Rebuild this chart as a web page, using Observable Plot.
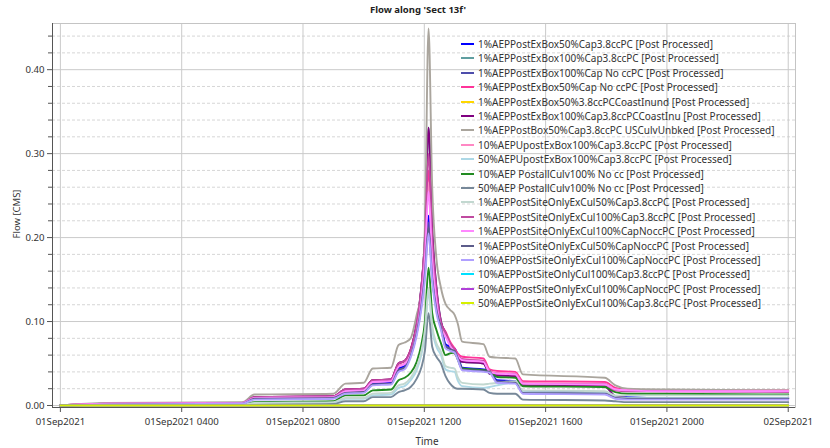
<!DOCTYPE html>
<html>
<head>
<meta charset="utf-8">
<script src="https://cdn.jsdelivr.net/npm/d3@7"></script>
<script src="https://cdn.jsdelivr.net/npm/@observablehq/plot@0.6"></script>
<style>
  html, body { margin: 0; padding: 0; background: #fff; }
  #wrap { position: relative; width: 830px; height: 448px; font-family: "Noto Sans", sans-serif; color: #333; }
  #title { position: absolute; top: 3px; left: 0; width: 836px; text-align: center; font-weight: bold; font-size: 9.5px; color: #222; }
  #ylab { position: absolute; left: 16px; top: 214px; transform: translate(-50%, -50%) rotate(-90deg); font-size: 9.5px; white-space: nowrap; }
  #xlab { position: absolute; left: 427px; top: 434px; transform: translateX(-50%); font-size: 10px; }
  #legend { position: absolute; left: 461px; top: 37px; font-size: 10px; color: #333; }
  .row { position: absolute; left: 0; height: 14px; line-height: 14px; white-space: nowrap; display: flex; align-items: center; }
  .sw { display: inline-block; width: 13px; height: 2px; margin-right: 4px; }
</style>
</head>
<body>
<div id="wrap">
  <div id="chart"></div>
  <div id="title">Flow along 'Sect 13f'</div>
  <div id="ylab">Flow [CMS]</div>
  <div id="xlab">Time</div>
  <div id="legend"></div>
</div>
<script>
// hours after 01Sep2021 00:00
const hours = [0, 1.5, 6.0, 6.4, 9.0, 9.4, 10.0, 10.3, 10.9, 11.15, 11.35, 11.55, 11.75, 11.9, 12.02, 12.14, 12.26, 12.4, 12.55, 12.7, 12.85, 13.0, 13.1, 13.25, 13.95, 14.15, 14.4, 15.0, 15.25, 17.95, 18.3, 18.7, 20.0, 24.0];

const grayVals   = [0, 0.003, 0.004, 0.013, 0.014, 0.026, 0.027, 0.044, 0.045, 0.072, 0.075, 0.080, 0.108, 0.135, 0.21, 0.449, 0.26, 0.175, 0.14, 0.121, 0.114, 0.108, 0.098, 0.076, 0.073, 0.058, 0.057, 0.056, 0.037, 0.033, 0.024, 0.020, 0.019, 0.018];
const pinkVals   = [0, 0.002, 0.003, 0.010, 0.011, 0.019, 0.020, 0.030, 0.031, 0.050, 0.053, 0.067, 0.097, 0.138, 0.195, 0.28, 0.19, 0.135, 0.098, 0.088, 0.076, 0.068, 0.062, 0.058, 0.056, 0.043, 0.041, 0.040, 0.029, 0.028, 0.021, 0.019, 0.018, 0.018];
const pink2Vals  = [0, 0.002, 0.003, 0.009, 0.010, 0.017, 0.018, 0.028, 0.029, 0.047, 0.050, 0.062, 0.090, 0.128, 0.18, 0.265, 0.18, 0.128, 0.094, 0.084, 0.073, 0.065, 0.060, 0.055, 0.053, 0.041, 0.039, 0.038, 0.027, 0.026, 0.019, 0.018, 0.017, 0.017];
const purpleVals = [0, 0.002, 0.003, 0.010, 0.011, 0.019, 0.020, 0.030, 0.031, 0.050, 0.053, 0.066, 0.098, 0.14, 0.2, 0.331, 0.21, 0.14, 0.10, 0.086, 0.072, 0.063, 0.057, 0.052, 0.050, 0.038, 0.036, 0.035, 0.024, 0.023, 0.011, 0.009, 0.008, 0.008];
const mvrVals    = [0, 0.002, 0.003, 0.010, 0.011, 0.019, 0.020, 0.030, 0.031, 0.050, 0.053, 0.066, 0.097, 0.138, 0.195, 0.30, 0.20, 0.137, 0.099, 0.087, 0.074, 0.066, 0.060, 0.055, 0.053, 0.040, 0.038, 0.037, 0.026, 0.025, 0.018, 0.017, 0.017, 0.016];
const violetVals = [0, 0.002, 0.003, 0.009, 0.010, 0.017, 0.018, 0.028, 0.029, 0.046, 0.049, 0.060, 0.088, 0.125, 0.175, 0.255, 0.175, 0.125, 0.092, 0.082, 0.071, 0.064, 0.059, 0.054, 0.052, 0.040, 0.038, 0.037, 0.026, 0.025, 0.019, 0.018, 0.017, 0.017];
const blueVals   = [0, 0.001, 0.002, 0.008, 0.009, 0.016, 0.017, 0.026, 0.027, 0.044, 0.047, 0.062, 0.090, 0.125, 0.165, 0.226, 0.16, 0.12, 0.097, 0.073, 0.070, 0.068, 0.060, 0.045, 0.043, 0.042, 0.030, 0.029, 0.017, 0.016, 0.011, 0.010, 0.009, 0.009];
const sblueVals  = [0, 0.001, 0.002, 0.008, 0.009, 0.015, 0.016, 0.025, 0.026, 0.042, 0.045, 0.060, 0.087, 0.12, 0.16, 0.218, 0.155, 0.116, 0.094, 0.071, 0.068, 0.066, 0.058, 0.044, 0.042, 0.041, 0.029, 0.028, 0.016, 0.015, 0.010, 0.009, 0.009, 0.009];
const dslateVals = [0, 0.001, 0.002, 0.008, 0.009, 0.015, 0.016, 0.025, 0.026, 0.042, 0.045, 0.059, 0.086, 0.118, 0.157, 0.212, 0.152, 0.114, 0.093, 0.070, 0.067, 0.065, 0.057, 0.043, 0.041, 0.040, 0.028, 0.027, 0.015, 0.014, 0.009, 0.008, 0.008, 0.008];
const lavVals    = [0, 0.001, 0.002, 0.007, 0.008, 0.014, 0.015, 0.024, 0.025, 0.040, 0.043, 0.057, 0.083, 0.114, 0.15, 0.205, 0.148, 0.11, 0.09, 0.068, 0.065, 0.063, 0.055, 0.042, 0.040, 0.039, 0.027, 0.026, 0.014, 0.013, 0.008, 0.007, 0.007, 0.007];
const greenVals  = [0, 0.001, 0.001, 0.004, 0.005, 0.012, 0.012, 0.018, 0.019, 0.030, 0.033, 0.039, 0.052, 0.072, 0.10, 0.164, 0.11, 0.09, 0.074, 0.060, 0.062, 0.063, 0.055, 0.044, 0.042, 0.041, 0.034, 0.033, 0.023, 0.022, 0.016, 0.014, 0.014, 0.013];
const lblueVals  = [0, 0.001, 0.001, 0.002, 0.003, 0.008, 0.008, 0.012, 0.013, 0.021, 0.023, 0.030, 0.042, 0.060, 0.085, 0.135, 0.09, 0.07, 0.06, 0.043, 0.041, 0.040, 0.030, 0.023, 0.021, 0.022, 0.024, 0.027, 0.016, 0.015, 0.010, 0.009, 0.009, 0.009];
const sageVals   = [0, 0.001, 0.001, 0.003, 0.004, 0.009, 0.009, 0.014, 0.015, 0.024, 0.026, 0.033, 0.046, 0.064, 0.09, 0.14, 0.095, 0.074, 0.064, 0.047, 0.045, 0.044, 0.034, 0.027, 0.025, 0.026, 0.027, 0.029, 0.018, 0.017, 0.012, 0.012, 0.012, 0.012];
const slateVals  = [0, 0.001, 0.001, 0.002, 0.002, 0.005, 0.005, 0.010, 0.010, 0.016, 0.018, 0.022, 0.032, 0.045, 0.065, 0.11, 0.07, 0.058, 0.050, 0.035, 0.026, 0.021, 0.020, 0.020, 0.019, 0.015, 0.014, 0.014, 0.007, 0.006, 0.005, 0.004, 0.004, 0.004];
const zeroVals   = [0, 0, 0, 0, 0, 0, 0, 0, 0, 0, 0, 0, 0, 0, 0, 0, 0, 0, 0, 0, 0, 0, 0, 0, 0, 0, 0, 0, 0, 0, 0, 0, 0, 0];

const seriesNames = [
  "1%AEPPostExBox50%Cap3.8ccPC [Post Processed]",
  "1%AEPPostExBox100%Cap3.8ccPC [Post Processed]",
  "1%AEPPostExBox100%Cap No ccPC [Post Processed]",
  "1%AEPPostExBox50%Cap No ccPC [Post Processed]",
  "1%AEPPostExBox50%3.8ccPCCoastInund [Post Processed]",
  "1%AEPPostExBox100%Cap3.8ccPCCoastInu [Post Processed]",
  "1%AEPPostBox50%Cap3.8ccPC USCulvUnbked [Post Processed]",
  "10%AEPUpostExBox100%Cap3.8ccPC [Post Processed]",
  "50%AEPUpostExBox100%Cap3.8ccPC [Post Processed]",
  "10%AEP PostallCulv100% No cc [Post Processed]",
  "50%AEP PostallCulv100% No cc [Post Processed]",
  "1%AEPPostSiteOnlyExCul50%Cap3.8ccPC [Post Processed]",
  "1%AEPPostSiteOnlyExCul100%Cap3.8ccPC [Post Processed]",
  "1%AEPPostSiteOnlyExCul100%CapNoccPC [Post Processed]",
  "1%AEPPostSiteOnlyExCul50%CapNoccPC [Post Processed]",
  "10%AEPPostSiteOnlyExCul100%CapNoccPC [Post Processed]",
  "10%AEPPostSiteOnlyCul100%Cap3.8ccPC [Post Processed]",
  "50%AEPPostSiteOnlyExCul100%CapNoccPC [Post Processed]",
  "50%AEPPostSiteOnlyExCul100%Cap3.8ccPC [Post Processed]"
];
const seriesValues = [blueVals, purpleVals, sblueVals, pinkVals, zeroVals, purpleVals, grayVals, pink2Vals, lblueVals, greenVals, slateVals, sageVals, mvrVals, violetVals, dslateVals, lavVals, zeroVals, zeroVals, zeroVals];
const seriesColors = ["#0000ff", "#5f9ea0", "#4d4dab", "#ff3399", "#ffd700", "#800080", "#aaa59d", "#ff88c4", "#add8e6", "#228b22", "#778899", "#c2d8d0", "#c04aa0", "#ff88ff", "#5c5c8a", "#b0a0ff", "#00e0ff", "#b040d8", "#d6f000"];

const majorY = [0, 0.1, 0.2, 0.3, 0.4];
const minorY = [0.02, 0.04, 0.06, 0.08, 0.12, 0.14, 0.16, 0.18, 0.22, 0.24, 0.26, 0.28, 0.32, 0.34, 0.36, 0.38, 0.42, 0.44];
const tickHours = [0, 4, 8, 12, 16, 20, 24];
const xPadHours = [-0.26, 24.24];
const yDomain = [-0.0024, 0.455];

const T0 = Date.UTC(2021, 8, 1);
const toDate = h => new Date(T0 + h * 3600e3);
const xDomain = xPadHours.map(toDate);
const xTicks = tickHours.map(toDate);
const fmtTick = d => {
  const day = String(d.getUTCDate()).padStart(2, "0") + "Sep2021";
  const h = d.getUTCHours();
  return h === 0 ? day : day + " " + String(h).padStart(2, "0") + "00";
};

const lineMarks = seriesValues.map((vals, i) => {
  const rows = hours.map((h, j) => ({t: toDate(h), v: vals[j]}));
  return Plot.line(rows, {x: "t", y: "v", stroke: seriesColors[i], strokeWidth: 1.9, curve: "monotone-x"});
});

const chart = Plot.plot({
  width: 830, height: 448,
  marginTop: 23, marginBottom: 41, marginLeft: 52, marginRight: 35,
  x: {type: "utc", domain: xDomain},
  y: {domain: yDomain},
  style: {fontFamily: "'Noto Sans', sans-serif", fontSize: "9.6px", color: "#333", background: "#fff"},
  marks: [
    Plot.gridY({ticks: minorY, stroke: "#d6d6d6", strokeOpacity: 1, strokeDasharray: "3,2"}),
    Plot.gridY({ticks: majorY, stroke: "#cacaca", strokeOpacity: 1}),
    Plot.gridX({ticks: xTicks, stroke: "#cacaca", strokeOpacity: 1}),
    Plot.frame({stroke: "#c4c4c4"}),
    ...lineMarks,
    Plot.ruleX([xDomain[0]], {stroke: "#555"}),
    Plot.ruleY([yDomain[0]], {stroke: "#555"}),
    Plot.axisY({ticks: majorY, tickFormat: d => d.toFixed(2), tickSize: 5, tickPadding: 3, label: null, stroke: "#555"}),
    Plot.axisY({ticks: minorY, tickFormat: () => "", tickSize: 4, label: null, stroke: "#555"}),
    Plot.axisX({ticks: xTicks, tickFormat: fmtTick, tickSize: 5, tickPadding: 6, label: null, stroke: "#555"})
  ]
});
document.getElementById("chart").appendChild(chart);

const legend = document.getElementById("legend");
seriesNames.forEach((name, i) => {
  const row = document.createElement("div");
  row.className = "row";
  row.style.top = (i * 14.4) + "px";
  const sw = document.createElement("span");
  sw.className = "sw";
  sw.style.background = seriesColors[i];
  const tx = document.createElement("span");
  tx.textContent = name;
  row.appendChild(sw);
  row.appendChild(tx);
  legend.appendChild(row);
});
</script>
</body>
</html>
